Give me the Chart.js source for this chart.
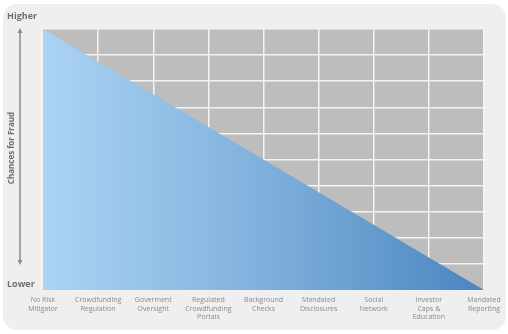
<!DOCTYPE html>
<html>
<head>
<meta charset="utf-8">
<script src="https://cdn.jsdelivr.net/npm/chart.js@4"></script>
<style>
  html, body { margin: 0; padding: 0; background: #ffffff; }
  #wrap { width: 508px; height: 334px; }
</style>
</head>
<body>
<div id="wrap"><canvas id="myChart" width="508" height="334"></canvas></div>
<script>
// categories (x axis), risk mitigators
const categorias = [
    ['No Risk', 'Mitigator'],
    ['Crowdfunding', 'Regulation'],
    ['Goverment', 'Oversight'],
    ['Regulated', 'Crowdfunding', 'Portals'],
    ['Background', 'Checks'],
    ['Mandated', 'Disclosures'],
    ['Social', 'Network'],
    ['Investor', 'Caps &', 'Education'],
    ['Mandated', 'Reporting']
];

// chance for fraud (0 = lower, 10 = higher)
const chanceFraude = [10, 8.75, 7.5, 6.25, 5, 3.75, 2.5, 1.25, 0];

const yMin = 0;
const yMax = 10;

const ctx = document.getElementById('myChart').getContext('2d');

// fundo do cartão, area cinza e textos do eixo y
const fundo = {
    id: 'fundo',
    beforeDraw(chart) {
        const c = chart.ctx;
        const a = chart.chartArea;
        c.save();
        // cartão
        c.fillStyle = '#efefef';
        c.beginPath();
        c.roundRect(3, 4, 503, 326, 14);
        c.fill();
        // area do grafico
        c.fillStyle = '#bdbdbd';
        c.fillRect(a.left, a.top, a.right - a.left, a.bottom - a.top);
        c.restore();
    },
    afterDraw(chart) {
        const c = chart.ctx;
        const a = chart.chartArea;
        c.save();
        c.fillStyle = '#6e6e6e';
        c.font = 'bold 9px "Open Sans", sans-serif';
        c.textBaseline = 'middle';
        c.textAlign = 'left';
        c.fillText('Higher', 7, 16);
        c.fillText('Lower', 7, 284);

        // seta
        c.strokeStyle = '#8c8c8c';
        c.fillStyle = '#8c8c8c';
        c.lineWidth = 1.5;
        c.beginPath();
        c.moveTo(20, 31);
        c.lineTo(20, 262);
        c.stroke();
        c.beginPath();
        c.moveTo(20, 28); c.lineTo(17.5, 33); c.lineTo(22.5, 33); c.closePath();
        c.fill();
        c.beginPath();
        c.moveTo(20, 265); c.lineTo(17.5, 260); c.lineTo(22.5, 260); c.closePath();
        c.fill();

        // titulo vertical
        c.translate(12, 148);
        c.rotate(-Math.PI / 2);
        c.textAlign = 'center';
        c.fillStyle = '#6e6e6e';
        c.font = 'bold 8px "Open Sans", sans-serif';
        c.fillText('Chances for Fraud', 0, 0);
        c.restore();
    }
};

function gradiente(context) {
    const chart = context.chart;
    const a = chart.chartArea;
    if (!a) return '#8ab6e0';
    const g = chart.ctx.createLinearGradient(a.left, 0, a.right, 0);
    g.addColorStop(0, '#abd3f3');
    g.addColorStop(0.5, '#7fb0dc');
    g.addColorStop(1, '#4a86bf');
    return g;
}

const grafico = new Chart(ctx, {
    type: 'line',
    data: {
        labels: categorias,
        datasets: [
            {
                label: 'Chances for Fraud',
                data: chanceFraude,
                fill: 'origin',
                backgroundColor: gradiente,
                borderWidth: 0,
                borderColor: 'rgba(0,0,0,0)',
                pointRadius: 0,
                tension: 0
            }
        ]
    },
    options: {
        responsive: false,
        animation: false,
        layout: {
            padding: { left: 43, right: 24, top: 29, bottom: 0 }
        },
        scales: {
            x: {
                offset: false,
                grid: { color: '#f4f4f4', lineWidth: 1.5, drawTicks: false },
                border: { display: false },
                ticks: {
                    color: '#8a8a8a',
                    font: { size: 7, family: '"Open Sans", sans-serif' },
                    padding: 6,
                    maxRotation: 0,
                    autoSkip: false
                },
                afterFit: (s) => { s.height = 44; }
            },
            y: {
                min: yMin,
                max: yMax,
                grid: { color: '#f4f4f4', lineWidth: 1.5, drawTicks: false },
                border: { display: false },
                ticks: { display: false, stepSize: 1 },
                afterFit: (s) => { s.width = 0; }
            }
        },
        plugins: {
            legend: { display: false },
            tooltip: { enabled: false }
        }
    },
    plugins: [fundo]
});
</script>
</body>
</html>
